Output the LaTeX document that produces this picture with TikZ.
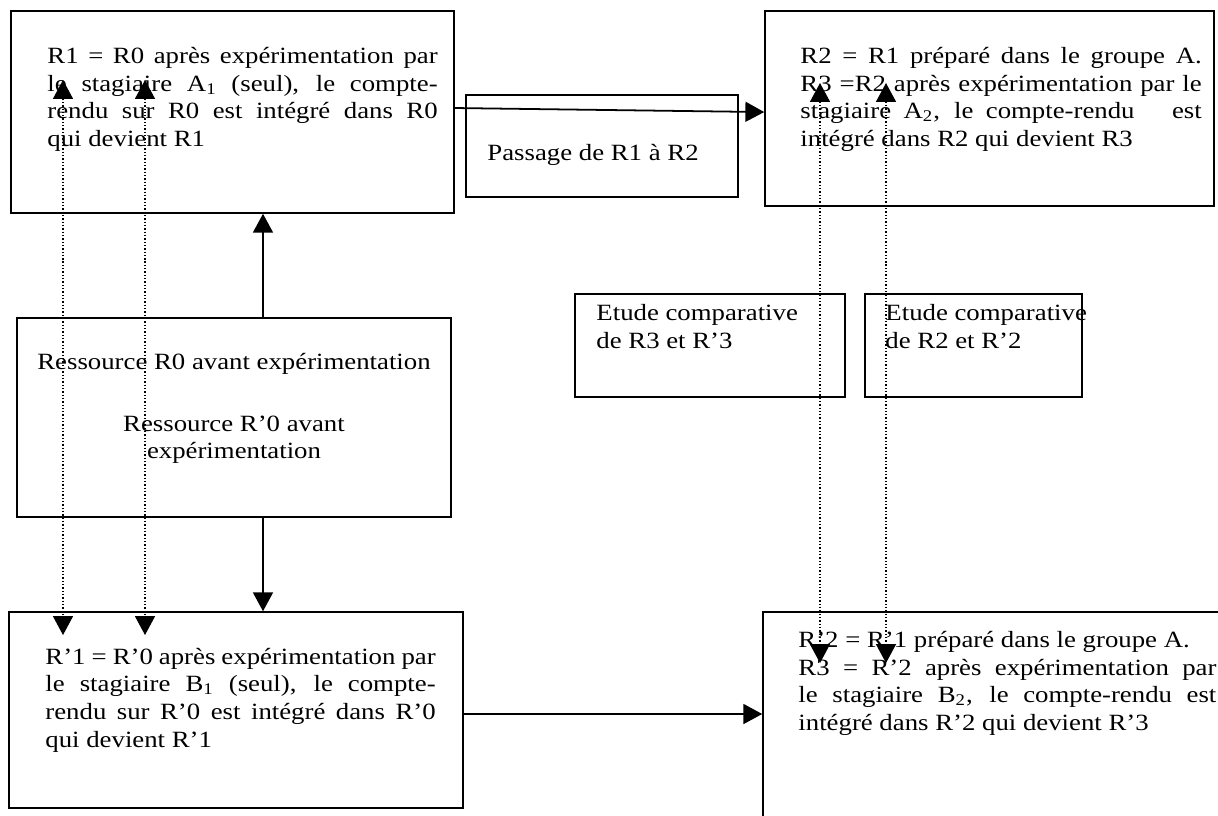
\documentclass[tikz,border=0pt]{standalone}
\usepackage{fontspec}
\setmainfont[FakeStretch=1.15]{Liberation Serif}
\usetikzlibrary{arrows.meta,fit}
\newcommand\jl[2]{\makebox[#1][s]{#2}}
\begin{document}
\begin{tikzpicture}[x=0.451pt,y=-0.451pt,
  box/.style={draw, line width=0.7pt, inner sep=0pt},
  txt/.style={inner sep=0pt, anchor=base west, font=\fontsize{10.5}{12.4}\selectfont},
  ctxt/.style={inner sep=0pt, anchor=base, font=\fontsize{10.5}{12.4}\selectfont},
  link/.style={line width=0.8pt, -{Triangle[length=8.5pt,width=9pt]}},
  dotlink/.style={line width=0.6pt, dash pattern=on 0.6pt off 0.9pt,
    {Triangle[length=8.5pt,width=9pt]}-{Triangle[length=8.5pt,width=9pt]}}
]
\clip (0,0) rectangle (1218,815);
\fill[white] (0,0) rectangle (1218,815);

% boxes
\node[box, fit={(11,11) (454,213)}] (A) {};
\node[box, fit={(466,95) (738,197)}] (P) {};
\node[box, fit={(765,11) (1214,206)}] (B) {};
\node[box, fit={(17,318) (451,517)}] (R) {};
\node[box, fit={(575,294) (845,397)}] (E1) {};
\node[box, fit={(865,294) (1082,397)}] (E2) {};
\node[box, fit={(9,612) (463,808)}] (C) {};
\node[box, fit={(763,612) (1240,840)}] (D) {};

% texts box A
\node[txt] (a1) at (47,63) {\jl{176pt}{R1 = R0 après expérimentation par}};
\node[txt] (a2) at (47,91) {\jl{176pt}{le stagiaire A\textsubscript{1} (seul), le compte-}};
\node[txt] (a3) at (47,118) {\jl{176pt}{rendu sur R0 est intégré dans R0}};
\node[txt] (a4) at (47,146) {qui devient R1};

% passage
\node[txt] (p1) at (487,160) {Passage de R1 à R2};

% box B
\node[txt] (b1) at (800,63) {\jl{181pt}{R2 = R1 préparé dans le groupe A.}};
\node[txt] (b2) at (800,91) {\jl{181pt}{R3 =R2 après expérimentation par le}};
\node[txt] (b3) at (800,118) {\jl{181pt}{stagiaire A\textsubscript{2}, le compte-rendu \ \ est}};
\node[txt] (b4) at (800,146) {intégré dans R2 qui devient R3};

% ressource
\node[ctxt] (r1) at (234,369) {Ressource R0 avant expérimentation};
\node[ctxt] (r2) at (234,431) {Ressource R’0 avant};
\node[ctxt] (r3) at (234,458) {expérimentation};

% etudes
\node[txt] (e11) at (596,320) {Etude comparative};
\node[txt] (e12) at (596,348) {de R3 et R’3};
\node[txt] (e21) at (885,320) {Etude comparative};
\node[txt] (e22) at (885,348) {de R2 et R’2};

% box C
\node[txt] (c1) at (45,664) {\jl{176pt}{R’1 = R’0 après expérimentation par}};
\node[txt] (c2) at (45,691) {\jl{176pt}{le stagiaire B\textsubscript{1} (seul), le compte-}};
\node[txt] (c3) at (45,719) {\jl{176pt}{rendu sur R’0 est intégré dans R’0}};
\node[txt] (c4) at (45,747) {qui devient R’1};

% box D
\node[txt] (d1) at (798,647) {R’2 = R’1 préparé dans le groupe A.};
\node[txt] (d2) at (798,675) {\jl{188.5pt}{R3 = R’2 après expérimentation par}};
\node[txt] (d3) at (798,702) {\jl{188.5pt}{le stagiaire B\textsubscript{2}, le compte-rendu est}};
\node[txt] (d4) at (798,730) {intégré dans R’2 qui devient R’3};

% solid connectors
\coordinate (vx) at (263,0);
\draw[link] ([yshift=1.8pt]A.east) -- ([yshift=-1.6pt]B.west);
\draw[link] (R.north -| vx) -- (A.south -| vx);
\draw[link] (R.south -| vx) -- (C.north -| vx);
\draw[link] ([yshift=-1.8pt]C.east) -- ([yshift=-1.8pt]C.east -| D.west);

% dotted connectors
\coordinate (l1t) at (63,80);   \coordinate (l1b) at (63,635);
\coordinate (l2t) at (145,80);  \coordinate (l2b) at (145,635);
\coordinate (r1t) at (820,83);  \coordinate (r1b) at (820,663);
\coordinate (r2t) at (886,83);  \coordinate (r2b) at (886,663);
\draw[dotlink] (l1t) -- (l1b);
\draw[dotlink] (l2t) -- (l2b);
\draw[dotlink] (r1t) -- (r1b);
\draw[dotlink] (r2t) -- (r2b);
\end{tikzpicture}
\end{document}
